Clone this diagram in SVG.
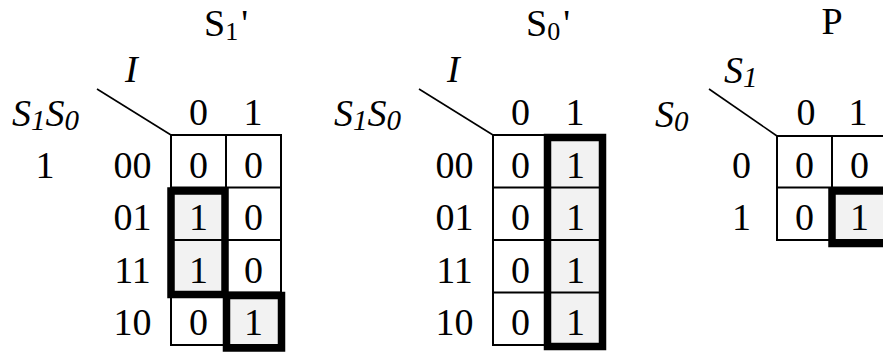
<svg xmlns="http://www.w3.org/2000/svg" width="883" height="354" viewBox="0 0 883 354">
<style>
text{font-family:"Liberation Serif","Times New Roman",serif;font-size:38px;fill:#000}
.c{text-anchor:middle}
.i{font-style:italic}
.g{fill:none;stroke:#000;stroke-width:2}
.on{fill:#f2f2f2;stroke:none}
.hl{fill:none;stroke:#000;stroke-width:7.5}
.d{stroke:#000;stroke-width:1.6}
</style>
<rect width="883" height="354" fill="#fff"/>
<g id="map-s1">
<text x="204" y="36">S<tspan font-size="26" dy="4">1</tspan><tspan dy="-4" dx="3">'</tspan></text>
<text class="i" x="125" y="82">I</text>
<text class="i" x="12" y="126">S<tspan font-size="29" dy="4">1</tspan><tspan dy="-4">S</tspan><tspan font-size="29" dy="4">0</tspan></text>
<line class="d" x1="97" y1="89" x2="171" y2="135"/>
<text class="c" x="198.5" y="125">0</text>
<text class="c" x="253" y="125">1</text>
<text class="c" x="45" y="178">1</text>
<text class="c" x="132.5" y="178">00</text>
<text class="c" x="132.5" y="230">01</text>
<text class="c" x="132.5" y="283">11</text>
<text class="c" x="132.5" y="335">10</text>
<rect class="on" x="171" y="187.5" width="55" height="105"/>
<rect class="on" x="226" y="292.5" width="55" height="52.5"/>
<path class="g" d="M171 135H281V345H171Z M226 135V345 M171 187.5H281 M171 240H281 M171 292.5H281"/>
<text class="c" x="198.5" y="178">0</text><text class="c" x="253.5" y="178">0</text>
<text class="c" x="198.5" y="230">1</text><text class="c" x="253.5" y="230">0</text>
<text class="c" x="198.5" y="283">1</text><text class="c" x="253.5" y="283">0</text>
<text class="c" x="198.5" y="335">0</text><text class="c" x="253.5" y="335">1</text>
<rect class="hl" x="171" y="191" width="54" height="103.5"/>
<rect class="hl" x="226.5" y="295.5" width="55" height="52.5"/>
</g>
<g id="map-s0">
<text x="526" y="36">S<tspan font-size="26" dy="4">0</tspan><tspan dy="-4" dx="3">'</tspan></text>
<text class="i" x="447" y="82">I</text>
<text class="i" x="334" y="126">S<tspan font-size="29" dy="4">1</tspan><tspan dy="-4">S</tspan><tspan font-size="29" dy="4">0</tspan></text>
<line class="d" x1="419" y1="89" x2="493" y2="135"/>
<text class="c" x="520.5" y="125">0</text>
<text class="c" x="575" y="125">1</text>
<text class="c" x="454.5" y="178">00</text>
<text class="c" x="454.5" y="230">01</text>
<text class="c" x="454.5" y="283">11</text>
<text class="c" x="454.5" y="335">10</text>
<rect class="on" x="548" y="135" width="55" height="210"/>
<path class="g" d="M493 135H603V345H493Z M548 135V345 M493 187.5H603 M493 240H603 M493 292.5H603"/>
<text class="c" x="520.5" y="178">0</text><text class="c" x="575.5" y="178">1</text>
<text class="c" x="520.5" y="230">0</text><text class="c" x="575.5" y="230">1</text>
<text class="c" x="520.5" y="283">0</text><text class="c" x="575.5" y="283">1</text>
<text class="c" x="520.5" y="335">0</text><text class="c" x="575.5" y="335">1</text>
<rect class="hl" x="547.5" y="137.5" width="55" height="209"/>
</g>
<g id="map-p">
<text class="c" x="832" y="34">P</text>
<text class="i" x="724" y="83">S<tspan font-size="29" dy="4">1</tspan></text>
<text class="i" x="655" y="127">S<tspan font-size="29" dy="4">0</tspan></text>
<line class="d" x1="709" y1="89" x2="777" y2="136"/>
<text class="c" x="806" y="125">0</text>
<text class="c" x="858" y="125">1</text>
<text class="c" x="741.5" y="178">0</text>
<text class="c" x="741.5" y="230">1</text>
<rect class="on" x="832" y="187.5" width="55" height="52.5"/>
<path class="g" d="M777 136H888 M777 136V240H888 M832 136V240 M777 187.5H888"/>
<text class="c" x="804.5" y="178">0</text><text class="c" x="859.5" y="178">0</text>
<text class="c" x="804.5" y="230">0</text><text class="c" x="859.5" y="230">1</text>
<rect class="hl" x="832" y="191" width="60" height="52.5"/>
</g>
</svg>
